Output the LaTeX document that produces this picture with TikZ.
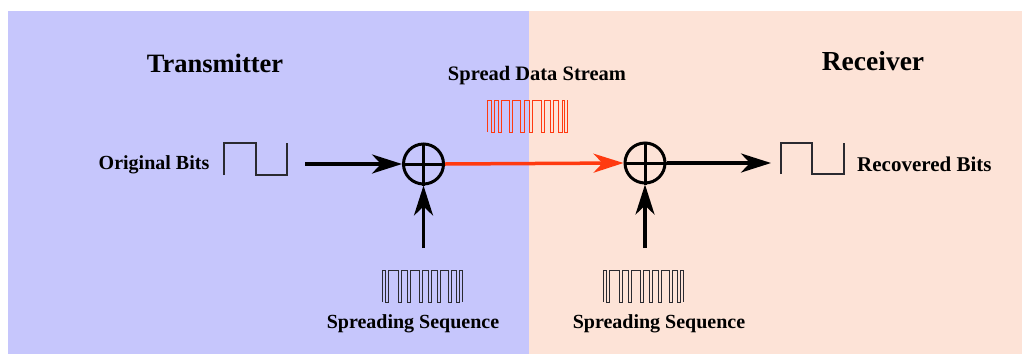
\documentclass[tikz,border=0pt]{standalone}
\usepackage{fontspec}
\setmainfont{Liberation Serif}
\usetikzlibrary{arrows.meta}
\definecolor{txbg}{HTML}{C6C6FC}
\definecolor{rxbg}{HTML}{FDE3D7}
\definecolor{spred}{HTML}{FF3A10}
\definecolor{wavec}{HTML}{2A2A30}
\begin{document}
\begin{tikzpicture}[x=1pt,y=-1pt,
  title/.style={font=\fontsize{26.5}{30}\selectfont\bfseries, inner sep=0pt},
  lbl/.style={font=\fontsize{20}{22}\selectfont\bfseries, inner sep=0pt},
  xorc/.style={circle, draw=black, line width=3pt, minimum size=40pt, inner sep=0pt},
  bigarrow/.style={line width=3.5pt, -{Stealth[length=30pt,width=19pt,inset=9pt]}},
  wave/.style={line width=0.8pt, draw=wavec, line join=miter},
  redwave/.style={line width=0.8pt, draw=spred}]
\useasboundingbox (0,0) rectangle (1022,354);
\fill[txbg] (8,11) rectangle (528.5,354);
\fill[rxbg] (528.5,11) rectangle (1022,354);
% titles
\node[title] (tx) at (215,63) {Transmitter};
\node[title, font=\fontsize{27.5}{30}\selectfont\bfseries] (rx) at (873,61) {Receiver};
\node[lbl, font=\fontsize{20.5}{22}\selectfont\bfseries] (sds) at (537,76) {Spread Data Stream};
\node[lbl] (ob) at (154,165) {Original Bits};
\node[lbl, anchor=west, font=\fontsize{21}{22}\selectfont\bfseries] (rb) at (857,164) {Recovered Bits};
\node[lbl] (ss1) at (413,324) {Spreading Sequence};
\node[lbl] (ss2) at (659,324) {Spreading Sequence};
% xor circles
\node[xorc] (x1) at (423.5,164) {};
\node[xorc] (x2) at (645,163) {};
\draw[line width=3pt] (x1.north) -- (x1.south) (x1.west) -- (x1.east);
\draw[line width=3pt] (x2.north) -- (x2.south) (x2.west) -- (x2.east);
% arrow end points
\coordinate (inA) at (305,164);
\coordinate (outA) at (771,163);
\coordinate (up1) at (423.5,248);
\coordinate (up2) at (645,248);
\draw[bigarrow] (inA) -- (x1.west);
\draw[bigarrow, draw=spred, fill=spred] (x1.east) -- (x2.west);
\draw[bigarrow] (x2.east) -- (outA);
\draw[bigarrow] (up1) -- (x1.south);
\draw[bigarrow] (up2) -- (x2.south);
% data bit waveforms
\draw[wave, line width=1.1pt] (224,175) -- (224,143) -| (256,175) -| (287,143);
\draw[wave, line width=1.1pt] (781,174) -- (781,143) -| (812,174) -| (844,143);
% spreading sequences
\foreach \ox/\oy in {382/270, 603/270}{
\begin{scope}[shift={(\ox,\oy)}]
\draw[wave] (0,32) -- (0,0) -| (3,32) -| (6,0) -| (16,32) -| (19,0) -| (25,32)
  -| (28,0) -| (37,32) -| (40,0) -| (46,32) -| (49,0) -| (55,32) -| (58,0)
  -| (66,32) -| (69,0) -| (74,32) -| (77,0) -| (80,32);
\end{scope}}
% spread data stream
\begin{scope}[shift={(487,100)}]
\draw[redwave] (0,32) -- (0,0) -| (4,32) -| (7,0) -| (11,32) -| (14,0) -| (22,32)
  -| (25,0) -| (33,32) -| (37,0) -| (42,32) -| (45,0) -| (54,32) -| (57,0)
  -| (63,32) -| (66,0) -| (71,32) -| (75,0) -| (77,32) -| (80,0);
\end{scope}
\end{tikzpicture}
\end{document}
